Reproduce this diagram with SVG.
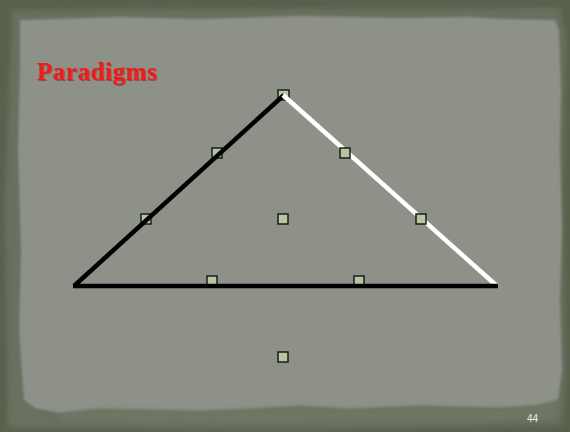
<svg xmlns="http://www.w3.org/2000/svg" width="570" height="432" viewBox="0 0 570 432">
<defs>
<style>
.h{fill:#b7c6a0;stroke:#1b1d18;stroke-width:1.5}
.e{stroke-width:4.5;stroke-linecap:butt;fill:none}
</style>
<filter id="soft" x="-5%" y="-5%" width="110%" height="110%"><feGaussianBlur stdDeviation="2.5"/></filter>
<filter id="soft2" x="-5%" y="-5%" width="110%" height="110%"><feGaussianBlur stdDeviation="1"/></filter>
</defs>
<rect x="0" y="0" width="570" height="432" fill="#59614c"/>
<path d="M12 10 L560 8 L566 40 L563 200 L566 380 L562 425 L300 430 L8 428 L5 200 Z" fill="#687060" filter="url(#soft)"/>
<path d="M20 20 L120 17 L200 19 L300 16 L400 18 L470 17 L500 19 L555 20 L559 30 L561 90 L560 150 L562 230 L560 300 L562 370 L558 400 L540 405 L500 408 L420 406 L350 409 L300 406 L250 409 L200 411 L150 410 L100 409 L60 413 L35 408 L24 400 L19 330 L21 250 L18 150 L20 60 Z" fill="#8d9187" filter="url(#soft2)"/>
<path d="M60 413 L100 409 L150 410 L200 411 L250 409 L300 406 L350 409 L420 406 L500 408 L540 405 L558 400 L556 418 L500 420 L300 422 L100 422 L60 420 Z" fill="#727a68" filter="url(#soft)" opacity="0.6"/>
<text x="38" y="81" font-family="Liberation Serif, serif" font-weight="bold" font-size="25" fill="#8a1010" opacity="0.5" textLength="120">Paradigms</text>
<text x="37" y="80" font-family="Liberation Serif, serif" font-weight="bold" font-size="25" fill="#ee1c1c" textLength="120">Paradigms</text>
<g id="n-apex"><rect class="h" x="278" y="90" width="11" height="10"/></g>
<g id="n1"><rect class="h" x="212" y="148" width="10" height="10"/></g>
<g id="n2"><rect class="h" x="141" y="214" width="10" height="10"/></g>
<g id="n6"><rect class="h" x="207" y="276" width="10" height="9"/></g>
<g id="n7"><rect class="h" x="354" y="276" width="10" height="9"/></g>
<g id="connectors">
<line class="e" x1="74" y1="286" x2="284" y2="95" stroke="#000"/>
<line class="e" x1="283" y1="95" x2="497" y2="286" stroke="#fff"/>
<line class="e" x1="73" y1="286" x2="498" y2="286" stroke="#000"/>
</g>
<g id="n3"><rect class="h" x="340" y="148" width="10" height="10"/></g>
<g id="n4"><rect class="h" x="416" y="214" width="10" height="10"/></g>
<g id="n5"><rect class="h" x="278" y="214" width="10" height="10"/></g>
<g id="n8"><rect class="h" x="278" y="352" width="10" height="10"/></g>
<text x="527" y="422" font-family="Liberation Sans, sans-serif" font-size="10" fill="#ececea">44</text>
</svg>
